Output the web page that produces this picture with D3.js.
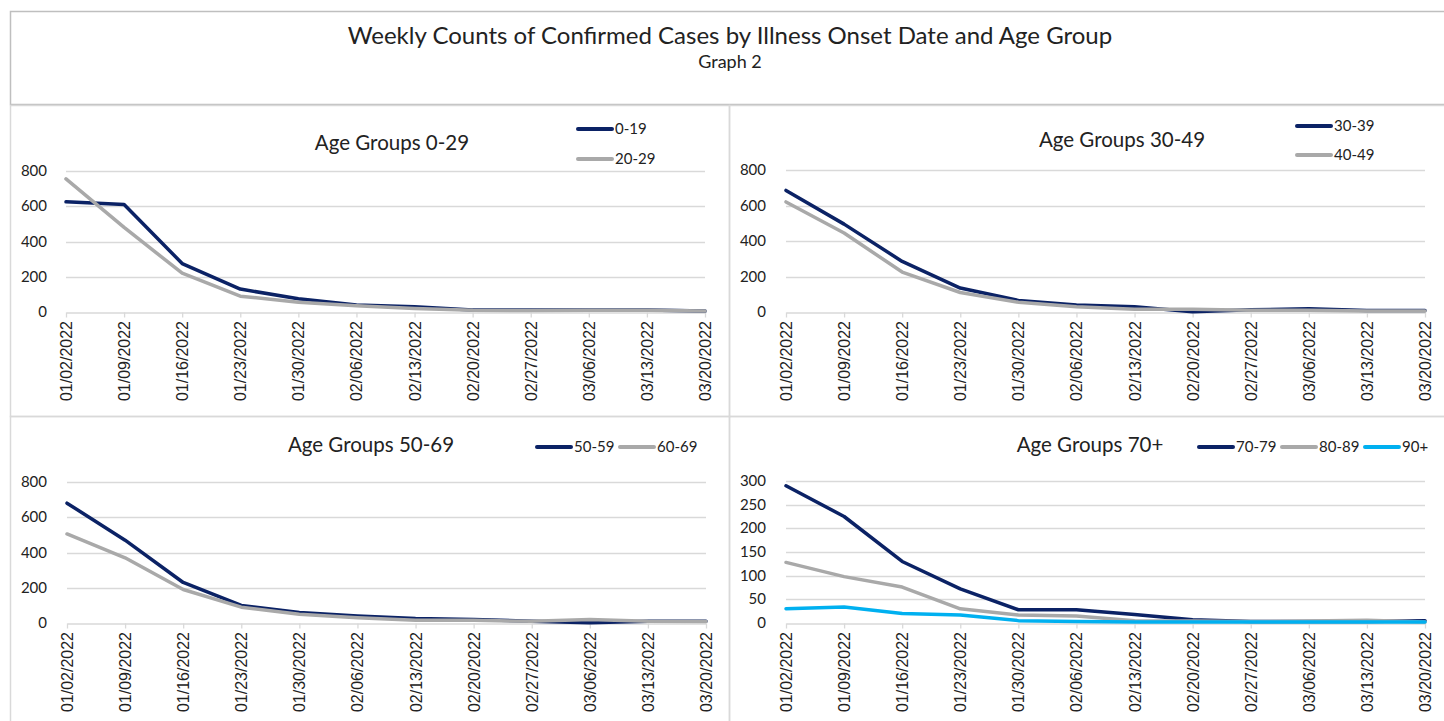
<!DOCTYPE html>
<html>
<head>
<meta charset="utf-8">
<script src="https://cdn.jsdelivr.net/npm/d3@7"></script>
<style>
  body { margin: 0; background: #fff; }
  svg { display: block; }
  text { fill: #222; }
</style>
</head>
<body>
<div id="chart"></div>
<script>
// week start dates (x categories)
var weeks = ['01/02/2022', '01/09/2022', '01/16/2022', '01/23/2022', '01/30/2022', '02/06/2022',
  '02/13/2022', '02/20/2022', '02/27/2022', '03/06/2022', '03/13/2022', '03/20/2022']

// weekly counts per age group
var age0to19 = [625, 610, 275, 130, 75, 40, 30, 12, 12, 12, 12, 5]
var age20to29 = [755, 480, 220, 90, 55, 35, 20, 10, 8, 10, 10, 5]
var age30to39 = [685, 495, 285, 135, 65, 40, 30, 2, 12, 18, 8, 8]
var age40to49 = [620, 445, 225, 110, 55, 30, 15, 15, 10, 10, 5, 5]
var age50to59 = [680, 470, 230, 100, 60, 40, 25, 20, 10, 2, 10, 10]
var age60to69 = [505, 370, 190, 90, 50, 30, 15, 15, 10, 20, 10, 8]
var age70to79 = [290, 225, 130, 72, 28, 28, 18, 7, 3, 3, 3, 5]
var age80to89 = [128, 98, 76, 30, 17, 15, 5, 4, 3, 4, 6, 2]
var age90plus = [30, 34, 20, 17, 5, 3, 2, 2, 2, 2, 2, 2]

var ticks800 = [0, 200, 400, 600, 800]
var ticks300 = [0, 50, 100, 150, 200, 250, 300]

var NAVY = '#0b2265', GRAY = '#a9a9a9', CYAN = '#00b0f0'
var FONT = 'Lato, "Open Sans", sans-serif'

var W = 1444, H = 721

var svg = d3.select('#chart').append('svg')
  .attr('width', W)
  .attr('height', H)

// outer frames
svg.append('rect')
  .attr('x', 10.5).attr('y', 11.5)
  .attr('width', W).attr('height', 93)
  .attr('fill', 'none').attr('stroke', '#bfbfbf').attr('stroke-width', 1.5)

svg.append('text')
  .attr('x', 730).attr('y', 44)
  .attr('text-anchor', 'middle')
  .style('font-family', FONT).style('font-size', '24px')
  .text('Weekly Counts of Confirmed Cases by Illness Onset Date and Age Group')

svg.append('text')
  .attr('x', 730).attr('y', 68)
  .attr('text-anchor', 'middle')
  .style('font-family', FONT).style('font-size', '18px')
  .text('Graph 2')

var panels = [
  {
    title: 'Age Groups 0-29', titleX: 392, titleY: 150,
    box: [10, 105, 719, 311],
    xr: [66, 705], yr: [312, 171], max: 800, ticks: ticks800, labelX: 47,
    series: [{ name: '0-19', values: age0to19, color: NAVY }, { name: '20-29', values: age20to29, color: GRAY }],
    legend: 'vertical', legX: 578, legY: 129, legStep: 30
  },
  {
    title: 'Age Groups 30-49', titleX: 1122, titleY: 147,
    box: [729, 105, 720, 311],
    xr: [786, 1425], yr: [312, 170], max: 800, ticks: ticks800, labelX: 766,
    series: [{ name: '30-39', values: age30to39, color: NAVY }, { name: '40-49', values: age40to49, color: GRAY }],
    legend: 'vertical', legX: 1297, legY: 126, legStep: 29
  },
  {
    title: 'Age Groups 50-69', titleX: 371, titleY: 452,
    box: [10, 416, 719, 310],
    xr: [67, 706], yr: [623, 482], max: 800, ticks: ticks800, labelX: 47,
    series: [{ name: '50-59', values: age50to59, color: NAVY }, { name: '60-69', values: age60to69, color: GRAY }],
    legend: 'horizontal', legX: 537, legY: 447, legStep: 83
  },
  {
    title: 'Age Groups 70+', titleX: 1090, titleY: 452,
    box: [729, 416, 720, 310],
    xr: [786, 1425], yr: [623, 481], max: 300, ticks: ticks300, labelX: 766,
    series: [{ name: '70-79', values: age70to79, color: NAVY }, { name: '80-89', values: age80to89, color: GRAY },
      { name: '90+', values: age90plus, color: CYAN }],
    legend: 'horizontal', legX: 1199, legY: 447, legStep: 83
  }
]

panels.forEach(function(p) {
  var g = svg.append('g')

  g.append('rect')
    .attr('x', p.box[0] + 0.5).attr('y', p.box[1] + 0.5)
    .attr('width', p.box[2]).attr('height', p.box[3])
    .attr('fill', 'none').attr('stroke', '#d9d9d9').attr('stroke-width', 1.5)

  var x = d3.scalePoint().domain(weeks).range(p.xr)
  var y = d3.scaleLinear().domain([0, p.max]).range(p.yr)

  // gridlines
  g.append('g').selectAll('line')
    .data(p.ticks.slice(1))
    .join('line')
    .attr('x1', p.xr[0]).attr('x2', p.xr[1])
    .attr('y1', function(d) { return Math.round(y(d)) + 0.5 })
    .attr('y2', function(d) { return Math.round(y(d)) + 0.5 })
    .attr('stroke', '#d9d9d9').attr('stroke-width', 1.3)

  // y labels
  g.append('g').selectAll('text')
    .data(p.ticks)
    .join('text')
    .attr('x', p.labelX)
    .attr('y', function(d) { return y(d) + 5 })
    .attr('text-anchor', 'end')
    .style('font-family', FONT).style('font-size', '15px')
    .text(function(d) { return d })

  // category axis
  var xAxis = d3.axisBottom(x).tickSize(5).tickSizeOuter(0).tickFormat('')
  var ax = g.append('g')
    .attr('transform', 'translate(0,' + (Math.round(p.yr[0]) + 0.5) + ')')
    .call(xAxis)
  ax.select('.domain').attr('stroke', '#d9d9d9').attr('stroke-width', 1.3)
  ax.selectAll('.tick line').attr('stroke', '#d9d9d9').attr('stroke-width', 1.3)

  g.append('g').selectAll('text')
    .data(weeks)
    .join('text')
    .attr('transform', function(d) { return 'translate(' + (x(d) + 6) + ',' + (p.yr[0] + 9) + ') rotate(-90)' })
    .attr('text-anchor', 'end')
    .style('font-family', '"Liberation Sans", Arial, sans-serif').style('font-size', '16px')
    .text(function(d) { return d })

  // series lines
  var line = d3.line()
    .x(function(d, i) { return x(weeks[i]) })
    .y(function(d) { return y(d) })

  p.series.forEach(function(s) {
    g.append('path')
      .datum(s.values)
      .attr('d', line)
      .attr('fill', 'none')
      .attr('stroke', s.color)
      .attr('stroke-width', 3.5)
      .attr('stroke-linejoin', 'round')
      .attr('stroke-linecap', 'round')
  })

  // title
  g.append('text')
    .attr('x', p.titleX).attr('y', p.titleY)
    .attr('text-anchor', 'middle')
    .style('font-family', FONT).style('font-size', '20.5px')
    .text(p.title)

  // legend
  p.series.forEach(function(s, i) {
    var lx = p.legend === 'vertical' ? p.legX : p.legX + i * p.legStep
    var ly = p.legend === 'vertical' ? p.legY + i * p.legStep : p.legY
    g.append('line')
      .attr('x1', lx).attr('x2', lx + 34)
      .attr('y1', ly).attr('y2', ly)
      .attr('stroke', s.color).attr('stroke-width', 4).attr('stroke-linecap', 'round')
    g.append('text')
      .attr('x', lx + 37).attr('y', ly + 5)
      .style('font-family', FONT).style('font-size', '15px')
      .text(s.name)
  })
})
</script>
</body>
</html>
